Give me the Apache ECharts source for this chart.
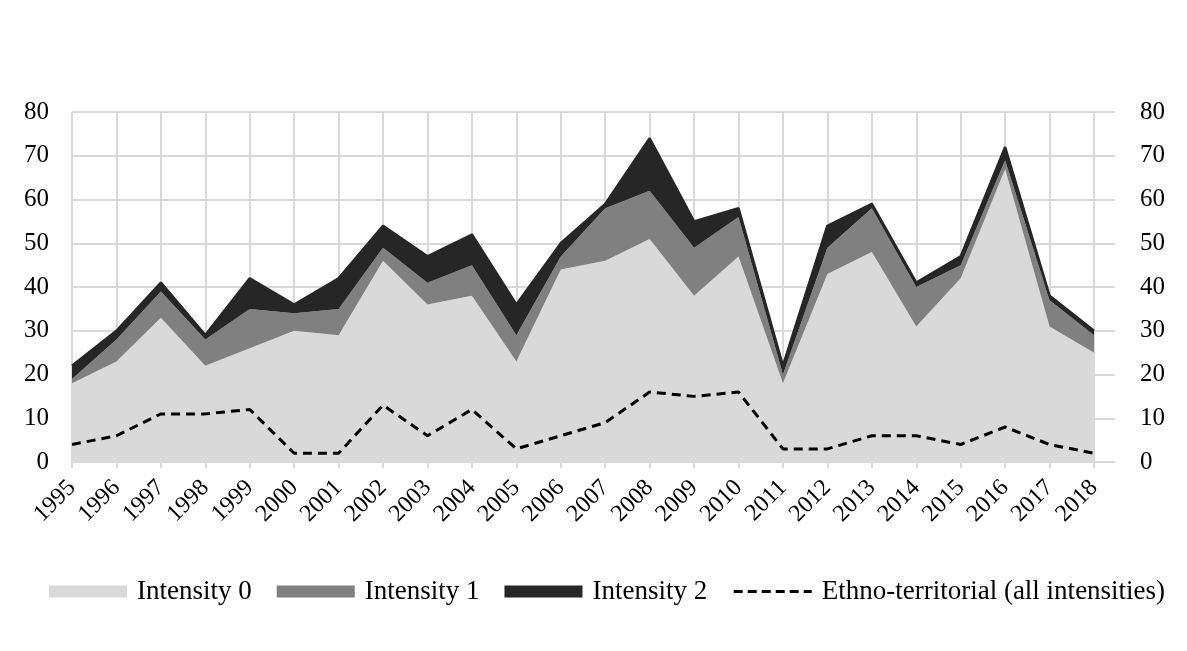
<!DOCTYPE html>
<html>
<head>
<meta charset="utf-8">
<script src="https://cdn.jsdelivr.net/npm/echarts@6/dist/echarts.min.js"></script>
<style>html,body{margin:0;padding:0;background:#fff}#c{width:1187px;height:651px}</style>
</head>
<body>
<div id="c"></div>
<script>
const years = ['1995','1996','1997','1998','1999','2000','2001','2002','2003','2004','2005','2006','2007','2008','2009','2010','2011','2012','2013','2014','2015','2016','2017','2018'];
const intensity0 = [18,23,33,22,26,30,29,46,36,38,23,44,46,51,38,47,18,43,48,31,42,67,31,25];
const intensity1 = [1,5,6,6,9,4,6,3,5,7,6,3,12,11,11,9,2,6,10,9,3,2,6,4];
const intensity2 = [3,2,2,1,7,2,7,5,6,7,7,3,1,12,6,2,2,5,1,1,2,3,1,1];
const ethno = [4,6,11,11,12,2,2,13,6,12,3,6,9,16,15,16,3,3,6,6,4,8,4,2];

const font = 'Liberation Serif';
const gridColor = '#d9d9d9';
const chart = echarts.init(document.getElementById('c'), null, {renderer: 'canvas'});
const yLabel = {fontFamily: font, fontSize: 25, color: '#000'};
chart.setOption({
  animation: false,
  grid: [
    {left: 72, right: 93, top: 112, bottom: 189},
    {left: 72, right: 72, top: 112, bottom: 189}
  ],
  legend: {
    top: 573, left: 44,
    itemWidth: 78, itemHeight: 12, itemGap: 25,
    textStyle: {fontFamily: font, fontSize: 27, color: '#000', padding: [0, 0, 0, 5]},
    data: [
      {name: 'Intensity 0', icon: 'rect'},
      {name: 'Intensity 1', icon: 'rect'},
      {name: 'Intensity 2', icon: 'rect'},
      {name: 'Ethno-territorial (all intensities)',
       itemStyle: {color: 'rgba(0,0,0,0)', borderWidth: 0},
       lineStyle: {width: 3, color: '#000', type: [9, 5]}}
    ]
  },
  xAxis: [
    {
      type: 'category', data: years, boundaryGap: false, gridIndex: 0,
      axisLine: {show: true, lineStyle: {color: gridColor, width: 2}},
      axisTick: {show: true, length: 6, lineStyle: {color: gridColor, width: 2}},
      splitLine: {show: true, lineStyle: {color: gridColor, width: 2}},
      axisLabel: {fontFamily: font, fontSize: 24, color: '#000', rotate: 45, margin: 22, interval: 0}
    },
    {type: 'value', gridIndex: 1, min: 0, max: 1, show: false}
  ],
  yAxis: [
    {type: 'value', gridIndex: 0, min: 0, max: 80, interval: 10, show: false},
    {type: 'value', gridIndex: 1, position: 'left', min: 0, max: 80, interval: 10,
     axisLine: {show: false}, axisTick: {show: false},
     splitLine: {show: true, lineStyle: {color: gridColor, width: 2}},
     axisLabel: Object.assign({margin: 23}, yLabel)},
    {type: 'value', gridIndex: 1, position: 'right', min: 0, max: 80, interval: 10,
     axisLine: {show: false}, axisTick: {show: false}, splitLine: {show: false},
     axisLabel: Object.assign({margin: 25}, yLabel)}
  ],
  series: [
    {name: 'Intensity 0', type: 'line', stack: 'total', data: intensity0, symbol: 'none', xAxisIndex: 0, yAxisIndex: 0,
     itemStyle: {color: '#d9d9d9'}, lineStyle: {width: 0, color: '#d9d9d9'}, areaStyle: {color: '#d9d9d9', opacity: 1}},
    {name: 'Intensity 1', type: 'line', stack: 'total', data: intensity1, symbol: 'none', xAxisIndex: 0, yAxisIndex: 0,
     itemStyle: {color: '#808080'}, lineStyle: {width: 0, color: '#808080'}, areaStyle: {color: '#808080', opacity: 1}},
    {name: 'Intensity 2', type: 'line', stack: 'total', data: intensity2, symbol: 'none', xAxisIndex: 0, yAxisIndex: 0,
     itemStyle: {color: '#262626'}, lineStyle: {width: 2.5, color: '#262626'}, areaStyle: {color: '#262626', opacity: 1}},
    {name: 'Ethno-territorial (all intensities)', type: 'line', data: ethno, symbol: 'none', z: 5, xAxisIndex: 0, yAxisIndex: 0,
     itemStyle: {color: '#000'}, lineStyle: {width: 3, color: '#000', type: [9, 6]}}
  ]
});
</script>
</body>
</html>
